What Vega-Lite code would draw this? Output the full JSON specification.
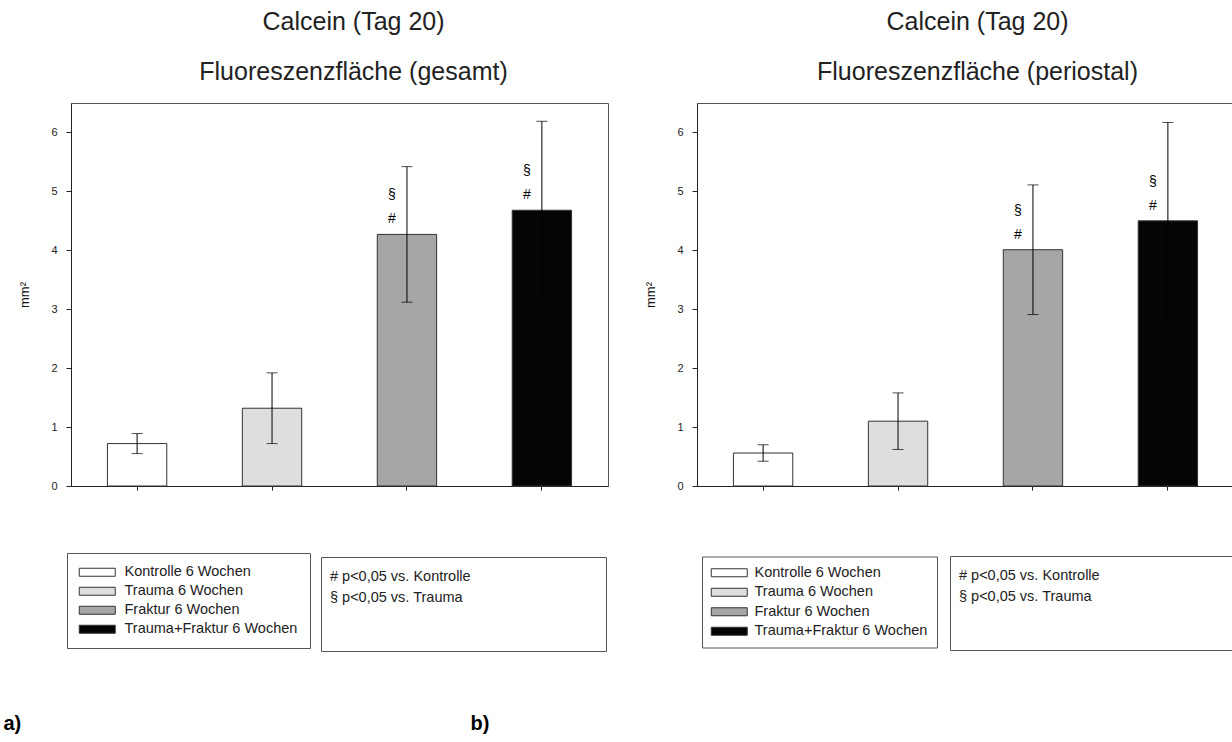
{
  "$schema": "https://vega.github.io/schema/vega-lite/v6.json",
  "background": "white",
  "padding": {"left": 2, "top": 9, "right": 0, "bottom": 0},
  "config": {
    "font": "Liberation Sans",
    "view": {"stroke": "#555", "strokeWidth": 1},
    "axis": {"grid": false, "domainColor": "#222", "tickColor": "#222", "labelColor": "#222", "titleColor": "#111", "labelFont": "Liberation Sans", "titleFont": "Liberation Sans"},
    "title": {"font": "Liberation Sans", "fontSize": 25, "fontWeight": "normal", "color": "#222", "subtitleFont": "Liberation Sans", "subtitleFontSize": 25, "subtitleColor": "#222", "anchor": "middle", "frame": "group", "subtitlePadding": 25, "offset": 18},
    "legend": {"labelFont": "Liberation Sans", "labelColor": "#222", "labelLimit": 300, "strokeColor": "#555", "fillColor": "white"}
  },
  "datasets": {
    "a": [
      {"group": "Kontrolle 6 Wochen", "mean": 0.72, "sd": 0.17, "vsK": null, "vsT": null},
      {"group": "Trauma 6 Wochen", "mean": 1.32, "sd": 0.6, "vsK": null, "vsT": null},
      {"group": "Fraktur 6 Wochen", "mean": 4.27, "sd": 1.15, "vsK": "# p<0,05 vs. Kontrolle", "vsT": "§ p<0,05 vs. Trauma"},
      {"group": "Trauma+Fraktur 6 Wochen", "mean": 4.68, "sd": 1.51, "vsK": "# p<0,05 vs. Kontrolle", "vsT": "§ p<0,05 vs. Trauma"}
    ],
    "b": [
      {"group": "Kontrolle 6 Wochen", "mean": 0.56, "sd": 0.14, "vsK": null, "vsT": null},
      {"group": "Trauma 6 Wochen", "mean": 1.1, "sd": 0.48, "vsK": null, "vsT": null},
      {"group": "Fraktur 6 Wochen", "mean": 4.01, "sd": 1.1, "vsK": "# p<0,05 vs. Kontrolle", "vsT": "§ p<0,05 vs. Trauma"},
      {"group": "Trauma+Fraktur 6 Wochen", "mean": 4.5, "sd": 1.67, "vsK": "# p<0,05 vs. Kontrolle", "vsT": "§ p<0,05 vs. Trauma"}
    ]
  },
  "bounds": "flush",
  "spacing": 89,
  "resolve": {
    "scale": {"x": "independent", "y": "independent", "fill": "independent", "stroke": "independent"},
    "legend": {"fill": "independent", "stroke": "independent"}
  },
  "hconcat": [
    {
      "width": 537, "height": 383,
      "title": {"text": "Calcein (Tag 20)", "subtitle": "Fluoreszenzfläche (gesamt)", "dx": 14},
      "data": {"name": "a"},
      "encoding": {
        "x": {"field": "group", "type": "nominal", "sort": null,
          "scale": {"domain": ["Kontrolle 6 Wochen", "Trauma 6 Wochen", "Fraktur 6 Wochen", "Trauma+Fraktur 6 Wochen"], "paddingInner": 0.56, "paddingOuter": 0.27},
          "axis": {"labels": false, "ticks": true, "tickSize": 4, "title": "a)", "titleX": -68, "titleY": 243, "titleAlign": "left", "titleBaseline": "alphabetic", "titleFontSize": 20, "titleFontWeight": "bold", "titleColor": "#000"}},
        "y": {"field": "mean", "type": "quantitative", "scale": {"domain": [0, 6.5], "nice": false},
          "axis": {"values": [0, 1, 2, 3, 4, 5, 6], "title": "mm²", "titleFontWeight": "normal", "titleFontSize": 13, "labelFontSize": 11, "tickSize": 5, "labelPadding": 9, "titlePadding": 19}}
      },
      "layer": [
        {"mark": {"type": "bar", "stroke": "#333", "strokeWidth": 1},
         "encoding": {"fill": {"field": "group", "type": "nominal",
           "scale": {"domain": ["Kontrolle 6 Wochen", "Trauma 6 Wochen", "Fraktur 6 Wochen", "Trauma+Fraktur 6 Wochen"], "range": ["#ffffff", "#dedede", "#a6a6a6", "#050505"]},
           "legend": {"orient": "none", "legendX": -4, "legendY": 450, "title": null, "symbolType": "M-1.75,-1H7.25V1H-1.75Z", "symbolSize": 64, "symbolStrokeWidth": 1, "symbolStrokeColor": "#333", "symbolOpacity": 1, "labelOffset": 31, "labelFontSize": 14.5, "padding": 12, "rowPadding": 4}}}},
        {"mark": {"type": "errorbar", "color": "black", "ticks": {"size": 11, "color": "black"}, "rule": {"color": "black"}},
         "encoding": {"yError": {"field": "sd"}}},
        {"transform": [{"filter": "isValid(datum.vsK)"}],
         "mark": {"type": "text", "dx": -15, "dy": -15, "fontSize": 14, "fill": "black", "strokeWidth": 0},
         "encoding": {"text": {"value": "#"},
           "stroke": {"field": "vsK", "type": "nominal",
             "scale": {"domain": ["# p<0,05 vs. Kontrolle", "§ p<0,05 vs. Trauma"], "range": ["black", "black"]},
             "legend": {"orient": "none", "legendX": 250, "legendY": 454, "title": " ", "titleOrient": "bottom", "titleFontSize": 30, "titlePadding": 4, "symbolType": "M-1,-0.02H35.96V0H-1Z", "symbolSize": 196, "symbolStrokeWidth": 0, "symbolOpacity": 0, "labelOffset": -18.5, "labelFontSize": 14.5, "padding": 13, "rowPadding": 5.5}}}},
        {"transform": [{"filter": "isValid(datum.vsT)"}],
         "mark": {"type": "text", "dx": -15, "dy": -39, "fontSize": 14, "fill": "black", "strokeWidth": 0},
         "encoding": {"text": {"value": "§"},
           "stroke": {"field": "vsT", "type": "nominal",
             "scale": {"domain": ["# p<0,05 vs. Kontrolle", "§ p<0,05 vs. Trauma"], "range": ["black", "black"]},
             "legend": {"orient": "none", "legendX": 250, "legendY": 454, "title": " ", "titleOrient": "bottom", "titleFontSize": 30, "titlePadding": 4, "symbolType": "M-1,-0.02H35.96V0H-1Z", "symbolSize": 196, "symbolStrokeWidth": 0, "symbolOpacity": 0, "labelOffset": -18.5, "labelFontSize": 14.5, "padding": 13, "rowPadding": 5.5}}}}
      ]
    },
    {
      "width": 537, "height": 383,
      "title": {"text": "Calcein (Tag 20)", "subtitle": "Fluoreszenzfläche (periostal)", "dx": 12},
      "data": {"name": "b"},
      "encoding": {
        "x": {"field": "group", "type": "nominal", "sort": null,
          "scale": {"domain": ["Kontrolle 6 Wochen", "Trauma 6 Wochen", "Fraktur 6 Wochen", "Trauma+Fraktur 6 Wochen"], "paddingInner": 0.56, "paddingOuter": 0.27},
          "axis": {"labels": false, "ticks": true, "tickSize": 4, "title": "b)", "titleX": -227, "titleY": 243, "titleAlign": "left", "titleBaseline": "alphabetic", "titleFontSize": 20, "titleFontWeight": "bold", "titleColor": "#000"}},
        "y": {"field": "mean", "type": "quantitative", "scale": {"domain": [0, 6.5], "nice": false},
          "axis": {"values": [0, 1, 2, 3, 4, 5, 6], "title": "mm²", "titleFontWeight": "normal", "titleFontSize": 13, "labelFontSize": 11, "tickSize": 5, "labelPadding": 9, "titlePadding": 19}}
      },
      "layer": [
        {"mark": {"type": "bar", "stroke": "#333", "strokeWidth": 1},
         "encoding": {"fill": {"field": "group", "type": "nominal",
           "scale": {"domain": ["Kontrolle 6 Wochen", "Trauma 6 Wochen", "Fraktur 6 Wochen", "Trauma+Fraktur 6 Wochen"], "range": ["#ffffff", "#dedede", "#a6a6a6", "#050505"]},
           "legend": {"orient": "none", "legendX": 5, "legendY": 453.5, "title": null, "symbolType": "M-1.75,-1H7.25V1H-1.75Z", "symbolSize": 64, "symbolStrokeWidth": 1, "symbolStrokeColor": "#333", "symbolOpacity": 1, "labelOffset": 29, "labelFontSize": 14.5, "padding": 9, "rowPadding": 4.5}}}},
        {"mark": {"type": "errorbar", "color": "black", "ticks": {"size": 11, "color": "black"}, "rule": {"color": "black"}},
         "encoding": {"yError": {"field": "sd"}}},
        {"transform": [{"filter": "isValid(datum.vsK)"}],
         "mark": {"type": "text", "dx": -15, "dy": -15, "fontSize": 14, "fill": "black", "strokeWidth": 0},
         "encoding": {"text": {"value": "#"},
           "stroke": {"field": "vsK", "type": "nominal",
             "scale": {"domain": ["# p<0,05 vs. Kontrolle", "§ p<0,05 vs. Trauma"], "range": ["black", "black"]},
             "legend": {"orient": "none", "legendX": 253, "legendY": 453, "title": " ", "titleOrient": "bottom", "titleFontSize": 30, "titlePadding": 4, "symbolType": "M-1,-0.02H35.96V0H-1Z", "symbolSize": 196, "symbolStrokeWidth": 0, "symbolOpacity": 0, "labelOffset": -18.5, "labelFontSize": 14.5, "padding": 13, "rowPadding": 5.5}}}},
        {"transform": [{"filter": "isValid(datum.vsT)"}],
         "mark": {"type": "text", "dx": -15, "dy": -39, "fontSize": 14, "fill": "black", "strokeWidth": 0},
         "encoding": {"text": {"value": "§"},
           "stroke": {"field": "vsT", "type": "nominal",
             "scale": {"domain": ["# p<0,05 vs. Kontrolle", "§ p<0,05 vs. Trauma"], "range": ["black", "black"]},
             "legend": {"orient": "none", "legendX": 253, "legendY": 453, "title": " ", "titleOrient": "bottom", "titleFontSize": 30, "titlePadding": 4, "symbolType": "M-1,-0.02H35.96V0H-1Z", "symbolSize": 196, "symbolStrokeWidth": 0, "symbolOpacity": 0, "labelOffset": -18.5, "labelFontSize": 14.5, "padding": 13, "rowPadding": 5.5}}}}
      ]
    }
  ]
}
